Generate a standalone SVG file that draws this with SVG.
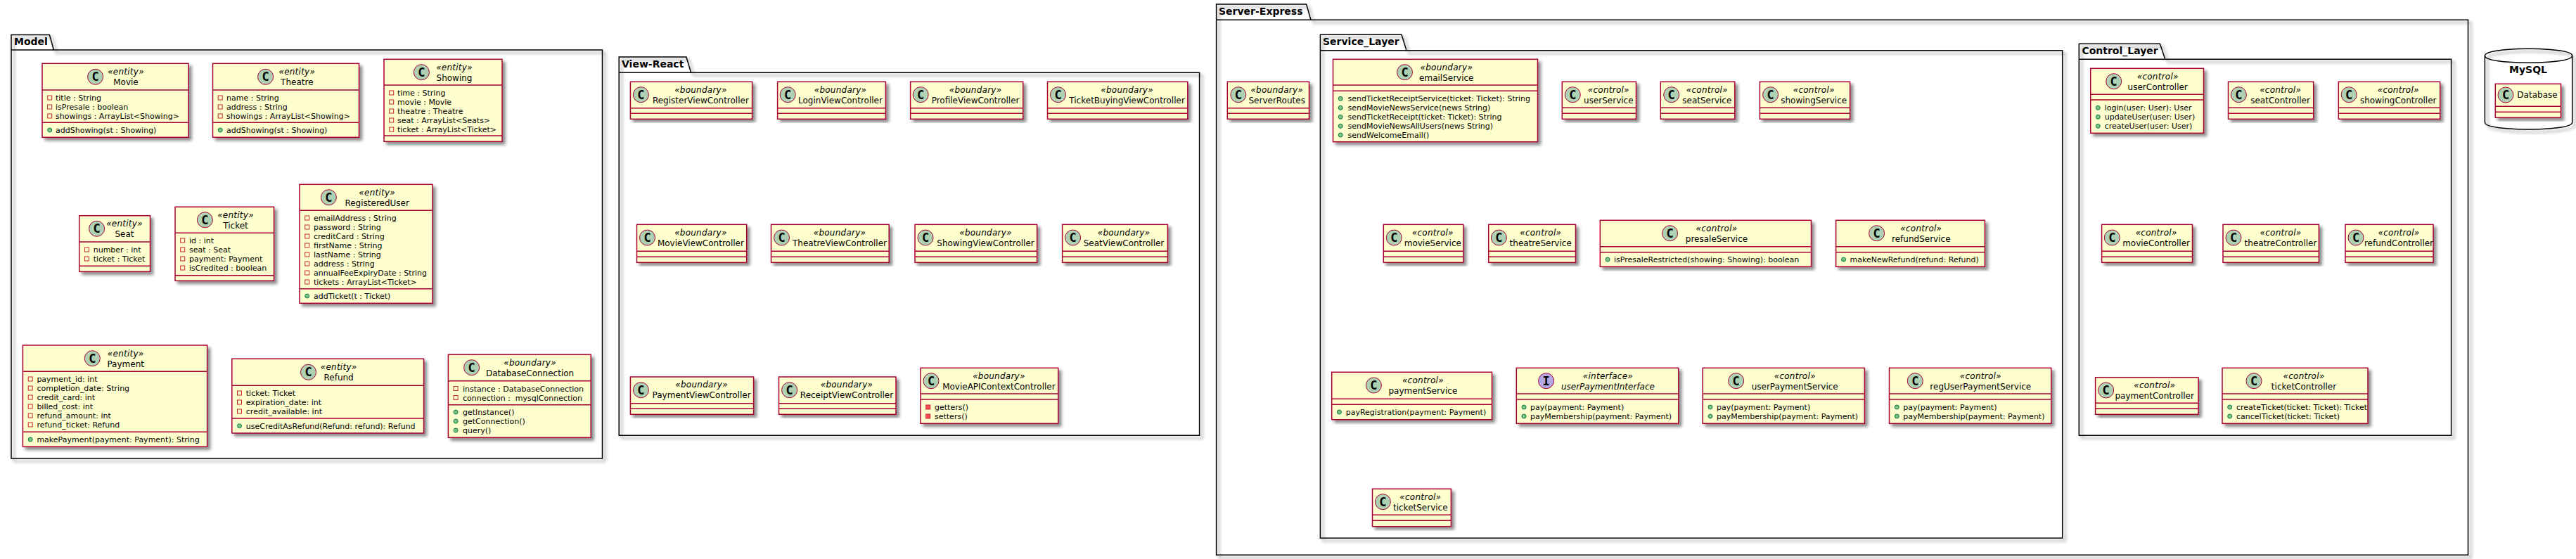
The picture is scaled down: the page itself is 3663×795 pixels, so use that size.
<svg xmlns="http://www.w3.org/2000/svg" width="3663" height="795" viewBox="0 0 3663 795">
<style>
text{font-family:"DejaVu Sans",sans-serif;fill:#000}
.b{fill:#FEFECE;stroke:#A80036;stroke-width:1.5;filter:url(#sh)}
.l{stroke:#A80036;stroke-width:1.5;fill:none}
.p{fill:none;stroke:#000;stroke-width:1.5;filter:url(#sh)}
.q{fill:none;stroke:#000;stroke-width:1.5}
.k{fill:#ADD1B2;stroke:#A80036;stroke-width:1}
.i{fill:#B4A7E5;stroke:#A80036;stroke-width:1}
.c{font-family:"DejaVu Sans Mono",monospace;font-weight:bold;font-size:17px;text-anchor:middle}
.s{font-size:12px;font-style:italic;text-anchor:middle;letter-spacing:.25px;transform:translateY(-1px)}
.n{font-size:12px;text-anchor:middle;transform:translateY(-1px)}
.t{font-size:14px;font-weight:bold}
.m{font-size:11px}
.pv{fill:none;stroke:#C82930;stroke-width:1}
.pm{fill:#F24D5C;stroke:#C82930;stroke-width:1}
.pb{fill:#84BE84;stroke:#038048;stroke-width:1}
</style>
<defs>
<filter id="sh" x="-5%" y="-5%" width="112%" height="115%"><feGaussianBlur in="SourceAlpha" stdDeviation="2" result="b"/><feColorMatrix in="b" type="matrix" values="0 0 0 0 0 0 0 0 0 0 0 0 0 0 0 0 0 0 0.45 0" result="c"/><feOffset in="c" dx="4" dy="4" result="o"/><feBlend in="SourceGraphic" in2="o" mode="normal"/></filter>
<rect id="priv" class="pv" x="-3" y="-3" width="6" height="6"/>
<rect id="privm" class="pm" x="-3" y="-3" width="6" height="6"/>
<circle id="pub" class="pb" r="3"/>
</defs>
<rect width="3663" height="795" fill="#fff"/>
<g id="packages">
<g id="pkg-model"><path class="p" d="M16,71V49.5H70.4L76.4,71H856.5V652H16Z"/><path class="q" d="M16,71H76.4"/><text class="t" x="20" y="64">Model</text></g>
<g id="pkg-view"><path class="p" d="M880.2,103.3V81H975.9L982.6,103.3H1705.6V619.3H880.2Z"/><path class="q" d="M880.2,103.3H982.6"/><text class="t" x="884" y="96">View-React</text></g>
<g id="pkg-server"><path class="p" d="M1729.6,28.3V6H1857.6L1864,28.3H3509.5V789.3H1729.6Z"/><path class="q" d="M1729.6,28.3H1864"/><text class="t" x="1733" y="21">Server-Express</text></g>
<g id="pkg-service"><path class="p" d="M1877.4,71.7V49.3H1993L2000,71.7H2932.7V765.3H1877.4Z"/><path class="q" d="M1877.4,71.7H2000"/><text class="t" x="1881" y="64">Service_Layer</text></g>
<g id="pkg-control"><path class="p" d="M2956.3,84.3V62.3H3071.4L3078.8,84.3H3485.6V619.3H2956.3Z"/><path class="q" d="M2956.3,84.3H3078.8"/><text class="t" x="2960.4" y="77">Control_Layer</text></g>
<g id="db-mysql"><path class="p" d="M3533.4,79.3C3533.4,69.3 3595.5,69.3 3595.5,69.3C3595.5,69.3 3657.7,69.3 3657.7,79.3V174C3657.7,184 3595.5,184 3595.5,184C3595.5,184 3533.4,184 3533.4,174Z"/><path class="q" d="M3533.4,79.3C3533.4,89.3 3595.5,89.3 3595.5,89.3C3595.5,89.3 3657.7,89.3 3657.7,79.3"/><text class="t" x="3595" y="104" text-anchor="middle">MySQL</text></g>
</g>
<g id="connectors"/>
<g id="nodes">
<g id="Movie"><rect class="b" x="60" y="90.3" width="208" height="105"/><path class="l" d="M60,128H268M60,174.3H268"/><circle class="k" cx="135.6" cy="109.3" r="11"/><text class="c" x="135.6" y="115">C</text><text class="s" x="179" y="106.5">«entity»</text><text class="n" x="179" y="121.5">Movie</text><use href="#priv" x="70.7" y="139"/><text class="m" x="79" y="143">title : String</text><use href="#priv" x="70.7" y="152"/><text class="m" x="79" y="156">isPresale : boolean</text><use href="#priv" x="70.7" y="165"/><text class="m" x="79" y="169">showings : ArrayList&lt;Showing&gt;</text><use href="#pub" x="70.7" y="185"/><text class="m" x="79" y="189">addShowing(st : Showing)</text></g>
<g id="Theatre"><rect class="b" x="302.5" y="90.3" width="208" height="105"/><path class="l" d="M302.5,128H510.5M302.5,174.3H510.5"/><circle class="k" cx="377.6" cy="109.3" r="11"/><text class="c" x="377.6" y="115">C</text><text class="s" x="422.3" y="106.5">«entity»</text><text class="n" x="422.3" y="121.5">Theatre</text><use href="#priv" x="313.2" y="139"/><text class="m" x="322" y="143">name : String</text><use href="#priv" x="313.2" y="152"/><text class="m" x="322" y="156">address : String</text><use href="#priv" x="313.2" y="165"/><text class="m" x="322" y="169">showings : ArrayList&lt;Showing&gt;</text><use href="#pub" x="313.2" y="185"/><text class="m" x="322" y="189">addShowing(st : Showing)</text></g>
<g id="Showing"><rect class="b" x="546" y="84.3" width="168" height="117"/><path class="l" d="M546,121H714M546,193H714"/><circle class="k" cx="599.4" cy="102.7" r="11"/><text class="c" x="599.4" y="108.5">C</text><text class="s" x="646" y="100.5">«entity»</text><text class="n" x="646" y="115.5">Showing</text><use href="#priv" x="556.7" y="132"/><text class="m" x="565" y="136">time : String</text><use href="#priv" x="556.7" y="145"/><text class="m" x="565" y="149">movie : Movie</text><use href="#priv" x="556.7" y="158"/><text class="m" x="565" y="162">theatre : Theatre</text><use href="#priv" x="556.7" y="171"/><text class="m" x="565" y="175">seat : ArrayList&lt;Seats&gt;</text><use href="#priv" x="556.7" y="184"/><text class="m" x="565" y="188">ticket : ArrayList&lt;Ticket&gt;</text></g>
<g id="Seat"><rect class="b" x="112.7" y="306.7" width="100.8" height="79.6"/><path class="l" d="M112.7,344H213.5M112.7,378.3H213.5"/><circle class="k" cx="137.6" cy="325.3" r="11"/><text class="c" x="137.6" y="331">C</text><text class="s" x="177" y="323">«entity»</text><text class="n" x="177" y="338">Seat</text><use href="#priv" x="123.4" y="355"/><text class="m" x="132.7" y="359">number : int</text><use href="#priv" x="123.4" y="368"/><text class="m" x="132.7" y="372">ticket : Ticket</text></g>
<g id="Ticket"><rect class="b" x="249" y="294.3" width="140.5" height="105"/><path class="l" d="M249,331.3H389.5M249,391.7H389.5"/><circle class="k" cx="291.4" cy="312.7" r="11"/><text class="c" x="291.4" y="318.5">C</text><text class="s" x="335" y="310.5">«entity»</text><text class="n" x="335" y="325.5">Ticket</text><use href="#priv" x="259.7" y="342"/><text class="m" x="269" y="346">id : int</text><use href="#priv" x="259.7" y="355"/><text class="m" x="269" y="359">seat : Seat</text><use href="#priv" x="259.7" y="368"/><text class="m" x="269" y="372">payment: Payment</text><use href="#priv" x="259.7" y="381"/><text class="m" x="269" y="385">isCredited : boolean</text></g>
<g id="RegisteredUser"><rect class="b" x="426" y="262.3" width="189" height="169"/><path class="l" d="M426,299.3H615M426,410.7H615"/><circle class="k" cx="467.4" cy="280.7" r="11"/><text class="c" x="467.4" y="286.5">C</text><text class="s" x="536.2" y="278.5">«entity»</text><text class="n" x="536.2" y="293.5">RegisteredUser</text><use href="#priv" x="436.7" y="310"/><text class="m" x="446" y="314">emailAddress : String</text><use href="#priv" x="436.7" y="323"/><text class="m" x="446" y="327">password : String</text><use href="#priv" x="436.7" y="336"/><text class="m" x="446" y="340">creditCard : String</text><use href="#priv" x="436.7" y="349"/><text class="m" x="446" y="353">firstName : String</text><use href="#priv" x="436.7" y="362"/><text class="m" x="446" y="366">lastName : String</text><use href="#priv" x="436.7" y="375"/><text class="m" x="446" y="379">address : String</text><use href="#priv" x="436.7" y="388"/><text class="m" x="446" y="392">annualFeeExpiryDate : String</text><use href="#priv" x="436.7" y="401"/><text class="m" x="446" y="405">tickets : ArrayList&lt;Ticket&gt;</text><use href="#pub" x="436.7" y="421"/><text class="m" x="446" y="425">addTicket(t : Ticket)</text></g>
<g id="Payment"><rect class="b" x="32.4" y="491" width="262.2" height="144.3"/><path class="l" d="M32.4,528.3H294.6M32.4,614.3H294.6"/><circle class="k" cx="131.3" cy="509.7" r="11"/><text class="c" x="131.3" y="515.5">C</text><text class="s" x="178.7" y="507.5">«entity»</text><text class="n" x="178.7" y="522.5">Payment</text><use href="#priv" x="43.2" y="539"/><text class="m" x="52.4" y="543">payment_id: int</text><use href="#priv" x="43.2" y="552"/><text class="m" x="52.4" y="556">completion_date: String</text><use href="#priv" x="43.2" y="565"/><text class="m" x="52.4" y="569">credit_card: int</text><use href="#priv" x="43.2" y="578"/><text class="m" x="52.4" y="582">billed_cost: int</text><use href="#priv" x="43.2" y="591"/><text class="m" x="52.4" y="595">refund_amount: int</text><use href="#priv" x="43.2" y="604"/><text class="m" x="52.4" y="608">refund_ticket: Refund</text><use href="#pub" x="43.2" y="625"/><text class="m" x="52.4" y="629">makePayment(payment: Payment): String</text></g>
<g id="Refund"><rect class="b" x="329.8" y="510.3" width="272.8" height="105.7"/><path class="l" d="M329.8,548.3H602.6M329.8,595H602.6"/><circle class="k" cx="438.5" cy="529.3" r="11"/><text class="c" x="438.5" y="535">C</text><text class="s" x="481.6" y="527">«entity»</text><text class="n" x="481.6" y="542">Refund</text><use href="#priv" x="340.5" y="559"/><text class="m" x="349.8" y="563">ticket: Ticket</text><use href="#priv" x="340.5" y="572"/><text class="m" x="349.8" y="576">expiration_date: int</text><use href="#priv" x="340.5" y="585"/><text class="m" x="349.8" y="589">credit_available: int</text><use href="#pub" x="340.5" y="605.7"/><text class="m" x="349.8" y="609.7">useCreditAsRefund(Refund: refund): Refund</text></g>
<g id="DatabaseConnection"><rect class="b" x="637.4" y="504.3" width="202.8" height="118"/><path class="l" d="M637.4,541.7H840.2M637.4,575.7H840.2"/><circle class="k" cx="670.6" cy="522.7" r="11"/><text class="c" x="670.6" y="528.5">C</text><text class="s" x="753.6" y="520.5">«boundary»</text><text class="n" x="753.6" y="535.5">DatabaseConnection</text><use href="#priv" x="648.1" y="552.5"/><text class="m" x="658" y="556.5">instance : DatabaseConnection</text><use href="#priv" x="648.1" y="565.5"/><text class="m" x="658" y="569.5">connection :&#160; mysqlConnection</text><use href="#pub" x="648.1" y="586"/><text class="m" x="658" y="590">getInstance()</text><use href="#pub" x="648.1" y="599"/><text class="m" x="658" y="603">getConnection()</text><use href="#pub" x="648.1" y="612"/><text class="m" x="658" y="616">query()</text></g>
<g id="RegisterViewController"><rect class="b" x="896.4" y="116.3" width="173.2" height="53"/><path class="l" d="M896.4,153.7H1069.6M896.4,161.3H1069.6"/><circle class="k" cx="911.4" cy="134.7" r="11"/><text class="c" x="911.4" y="140.5">C</text><text class="s" x="996.4" y="132.5">«boundary»</text><text class="n" x="996.4" y="147.5">RegisterViewController</text></g>
<g id="LoginViewController"><rect class="b" x="1105.6" y="116.3" width="153.8" height="53"/><path class="l" d="M1105.6,153.7H1259.4M1105.6,161.3H1259.4"/><circle class="k" cx="1120.2" cy="134.7" r="11"/><text class="c" x="1120.2" y="140.5">C</text><text class="s" x="1195" y="132.5">«boundary»</text><text class="n" x="1195" y="147.5">LoginViewController</text></g>
<g id="ProfileViewController"><rect class="b" x="1294.6" y="116.3" width="160.1" height="53"/><path class="l" d="M1294.6,153.7H1454.7M1294.6,161.3H1454.7"/><circle class="k" cx="1309.2" cy="134.7" r="11"/><text class="c" x="1309.2" y="140.5">C</text><text class="s" x="1387.1" y="132.5">«boundary»</text><text class="n" x="1387.1" y="147.5">ProfileViewController</text></g>
<g id="TicketBuyingViewController"><rect class="b" x="1489.5" y="116.3" width="199.3" height="53"/><path class="l" d="M1489.5,153.7H1688.8M1489.5,161.3H1688.8"/><circle class="k" cx="1504.5" cy="134.7" r="11"/><text class="c" x="1504.5" y="140.5">C</text><text class="s" x="1602.6" y="132.5">«boundary»</text><text class="n" x="1602.6" y="147.5">TicketBuyingViewController</text></g>
<g id="MovieViewController"><rect class="b" x="905.5" y="319.3" width="156.2" height="54"/><path class="l" d="M905.5,357.3H1061.7M905.5,365.3H1061.7"/><circle class="k" cx="920.5" cy="338" r="11"/><text class="c" x="920.5" y="343.8">C</text><text class="s" x="996.4" y="335.5">«boundary»</text><text class="n" x="996.4" y="350.5">MovieViewController</text></g>
<g id="TheatreViewController"><rect class="b" x="1096.5" y="319.3" width="167.7" height="54"/><path class="l" d="M1096.5,357.3H1264.2M1096.5,365.3H1264.2"/><circle class="k" cx="1111.5" cy="338" r="11"/><text class="c" x="1111.5" y="343.8">C</text><text class="s" x="1194" y="335.5">«boundary»</text><text class="n" x="1194" y="350.5">TheatreViewController</text></g>
<g id="ShowingViewController"><rect class="b" x="1301" y="319.3" width="173.6" height="54"/><path class="l" d="M1301,357.3H1474.6M1301,365.3H1474.6"/><circle class="k" cx="1316" cy="338" r="11"/><text class="c" x="1316" y="343.8">C</text><text class="s" x="1401.5" y="335.5">«boundary»</text><text class="n" x="1401.5" y="350.5">ShowingViewController</text></g>
<g id="SeatViewController"><rect class="b" x="1510.6" y="319.3" width="149.8" height="54"/><path class="l" d="M1510.6,357.3H1660.4M1510.6,365.3H1660.4"/><circle class="k" cx="1525.6" cy="338" r="11"/><text class="c" x="1525.6" y="343.8">C</text><text class="s" x="1598" y="335.5">«boundary»</text><text class="n" x="1598" y="350.5">SeatViewController</text></g>
<g id="PaymentViewController"><rect class="b" x="896.4" y="536" width="175.2" height="53.3"/><path class="l" d="M896.4,573.7H1071.6M896.4,581.3H1071.6"/><circle class="k" cx="911.4" cy="554.7" r="11"/><text class="c" x="911.4" y="560.5">C</text><text class="s" x="997.6" y="552.3">«boundary»</text><text class="n" x="997.6" y="567.3">PaymentViewController</text></g>
<g id="ReceiptViewController"><rect class="b" x="1107.5" y="536" width="166.5" height="53.3"/><path class="l" d="M1107.5,573.7H1274M1107.5,581.3H1274"/><circle class="k" cx="1122.6" cy="554.7" r="11"/><text class="c" x="1122.6" y="560.5">C</text><text class="s" x="1204" y="552.3">«boundary»</text><text class="n" x="1204" y="567.3">ReceiptViewController</text></g>
<g id="MovieAPIContextController"><rect class="b" x="1309" y="523.3" width="195.7" height="79"/><path class="l" d="M1309,560H1504.7M1309,568H1504.7"/><circle class="k" cx="1324" cy="541.7" r="11"/><text class="c" x="1324" y="547.5">C</text><text class="s" x="1420.4" y="539.5">«boundary»</text><text class="n" x="1420.4" y="554.5">MovieAPIContextController</text><use href="#privm" x="1319.7" y="579"/><text class="m" x="1329" y="583">getters()</text><use href="#privm" x="1319.7" y="592"/><text class="m" x="1329" y="596">setters()</text></g>
<g id="ServerRoutes"><rect class="b" x="1745.3" y="116.3" width="116.2" height="53"/><path class="l" d="M1745.3,153.7H1861.5M1745.3,161.3H1861.5"/><circle class="k" cx="1760.8" cy="134.7" r="11"/><text class="c" x="1760.8" y="140.5">C</text><text class="s" x="1815.7" y="132.5">«boundary»</text><text class="n" x="1815.7" y="147.5">ServerRoutes</text></g>
<g id="emailService"><rect class="b" x="1895.5" y="84.3" width="291" height="117.4"/><path class="l" d="M1895.5,121H2186.5M1895.5,129.3H2186.5"/><circle class="k" cx="1997.5" cy="102.7" r="11"/><text class="c" x="1997.5" y="108.5">C</text><text class="s" x="2056.8" y="100.5">«boundary»</text><text class="n" x="2056.8" y="115.5">emailService</text><use href="#pub" x="1906.2" y="140.3"/><text class="m" x="1916.5" y="144.3">sendTicketReceiptService(ticket: Ticket): String</text><use href="#pub" x="1906.2" y="153.3"/><text class="m" x="1916.5" y="157.3">sendMovieNewsService(news String)</text><use href="#pub" x="1906.2" y="166.3"/><text class="m" x="1916.5" y="170.3">sendTicketReceipt(ticket: Ticket): String</text><use href="#pub" x="1906.2" y="179.3"/><text class="m" x="1916.5" y="183.3">sendMovieNewsAllUsers(news String)</text><use href="#pub" x="1906.2" y="192"/><text class="m" x="1916.5" y="196">sendWelcomeEmail()</text></g>
<g id="userService"><rect class="b" x="2221.3" y="116.3" width="105.2" height="53"/><path class="l" d="M2221.3,153.3H2326.5M2221.3,161.3H2326.5"/><circle class="k" cx="2236.3" cy="134.7" r="11"/><text class="c" x="2236.3" y="140.5">C</text><text class="s" x="2287.3" y="132.5">«control»</text><text class="n" x="2287.3" y="147.5">userService</text></g>
<g id="seatService"><rect class="b" x="2361.3" y="116.3" width="105.5" height="53"/><path class="l" d="M2361.3,153.3H2466.8M2361.3,161.3H2466.8"/><circle class="k" cx="2376.7" cy="134.7" r="11"/><text class="c" x="2376.7" y="140.5">C</text><text class="s" x="2427.3" y="132.5">«control»</text><text class="n" x="2427.3" y="147.5">seatService</text></g>
<g id="showingService"><rect class="b" x="2502.4" y="116.3" width="128.2" height="53"/><path class="l" d="M2502.4,153.3H2630.6M2502.4,161.3H2630.6"/><circle class="k" cx="2517.6" cy="134.7" r="11"/><text class="c" x="2517.6" y="140.5">C</text><text class="s" x="2579.2" y="132.5">«control»</text><text class="n" x="2579.2" y="147.5">showingService</text></g>
<g id="movieService"><rect class="b" x="1967.3" y="319.3" width="113.5" height="54"/><path class="l" d="M1967.3,357.3H2080.8M1967.3,365.3H2080.8"/><circle class="k" cx="1982.3" cy="338" r="11"/><text class="c" x="1982.3" y="343.8">C</text><text class="s" x="2037.3" y="335.5">«control»</text><text class="n" x="2037.3" y="350.5">movieService</text></g>
<g id="theatreService"><rect class="b" x="2116.7" y="319.3" width="123.8" height="54"/><path class="l" d="M2116.7,357.3H2240.5M2116.7,365.3H2240.5"/><circle class="k" cx="2131.4" cy="338" r="11"/><text class="c" x="2131.4" y="343.8">C</text><text class="s" x="2190.7" y="335.5">«control»</text><text class="n" x="2190.7" y="350.5">theatreService</text></g>
<g id="presaleService"><rect class="b" x="2275.3" y="313.3" width="300.2" height="66"/><path class="l" d="M2275.3,350.7H2575.5M2275.3,358.7H2575.5"/><circle class="k" cx="2374.6" cy="331.7" r="11"/><text class="c" x="2374.6" y="337.5">C</text><text class="s" x="2441" y="329.5">«control»</text><text class="n" x="2441" y="344.5">presaleService</text><use href="#pub" x="2286" y="369"/><text class="m" x="2295" y="373">isPresaleRestricted(showing: Showing): boolean</text></g>
<g id="refundService"><rect class="b" x="2610.6" y="313.3" width="211.8" height="66"/><path class="l" d="M2610.6,350.7H2822.4M2610.6,358.7H2822.4"/><circle class="k" cx="2668.6" cy="331.7" r="11"/><text class="c" x="2668.6" y="337.5">C</text><text class="s" x="2731.8" y="329.5">«control»</text><text class="n" x="2731.8" y="344.5">refundService</text><use href="#pub" x="2621.5" y="369"/><text class="m" x="2630.5" y="373">makeNewRefund(refund: Refund)</text></g>
<g id="paymentService"><rect class="b" x="1893.7" y="529.3" width="227.8" height="67.4"/><path class="l" d="M1893.7,567.3H2121.5M1893.7,575.3H2121.5"/><circle class="k" cx="1953.4" cy="548" r="11"/><text class="c" x="1953.4" y="553.8">C</text><text class="s" x="2023.4" y="545.5">«control»</text><text class="n" x="2023.4" y="560.5">paymentService</text><use href="#pub" x="1904.4" y="586"/><text class="m" x="1913.7" y="590">payRegistration(payment: Payment)</text></g>
<g id="userPaymentInterface"><rect class="b" x="2156.3" y="523.3" width="230.5" height="79"/><path class="l" d="M2156.3,560H2386.8M2156.3,568H2386.8"/><circle class="i" cx="2198.6" cy="541.7" r="11"/><text class="c" x="2198.6" y="547.5">I</text><text class="s" x="2286.4" y="539.5">«interface»</text><text class="n" x="2286.4" y="554.5" font-style="italic">userPaymentInterface</text><use href="#pub" x="2167" y="579"/><text class="m" x="2176" y="583">pay(payment: Payment)</text><use href="#pub" x="2167" y="592"/><text class="m" x="2176" y="596">payMembership(payment: Payment)</text></g>
<g id="userPaymentService"><rect class="b" x="2421.2" y="523.3" width="230.2" height="79"/><path class="l" d="M2421.2,560H2651.4M2421.2,568H2651.4"/><circle class="k" cx="2468.7" cy="541.7" r="11"/><text class="c" x="2468.7" y="547.5">C</text><text class="s" x="2552.2" y="539.5">«control»</text><text class="n" x="2552.2" y="554.5">userPaymentService</text><use href="#pub" x="2432" y="579"/><text class="m" x="2441" y="583">pay(payment: Payment)</text><use href="#pub" x="2432" y="592"/><text class="m" x="2441" y="596">payMembership(payment: Payment)</text></g>
<g id="regUserPaymentService"><rect class="b" x="2686.5" y="523.3" width="230.2" height="79"/><path class="l" d="M2686.5,560H2916.7M2686.5,568H2916.7"/><circle class="k" cx="2723.3" cy="541.7" r="11"/><text class="c" x="2723.3" y="547.5">C</text><text class="s" x="2816.3" y="539.5">«control»</text><text class="n" x="2816.3" y="554.5">regUserPaymentService</text><use href="#pub" x="2697.3" y="579"/><text class="m" x="2706.3" y="583">pay(payment: Payment)</text><use href="#pub" x="2697.3" y="592"/><text class="m" x="2706.3" y="596">payMembership(payment: Payment)</text></g>
<g id="ticketService"><rect class="b" x="1951.5" y="695.3" width="111.9" height="53.4"/><path class="l" d="M1951.5,732.3H2063.4M1951.5,740.3H2063.4"/><circle class="k" cx="1966.4" cy="713.7" r="11"/><text class="c" x="1966.4" y="719.5">C</text><text class="s" x="2019.8" y="711.5">«control»</text><text class="n" x="2019.8" y="726.5">ticketService</text></g>
<g id="userController"><rect class="b" x="2972.7" y="97.3" width="160.8" height="92"/><path class="l" d="M2972.7,134.3H3133.5M2972.7,142H3133.5"/><circle class="k" cx="3005.7" cy="115.7" r="11"/><text class="c" x="3005.7" y="121.5">C</text><text class="s" x="3068.2" y="113.5">«control»</text><text class="n" x="3068.2" y="128.5">userController</text><use href="#pub" x="2983.3" y="153.3"/><text class="m" x="2992.7" y="157.3">login(user: User): User</text><use href="#pub" x="2983.3" y="166.3"/><text class="m" x="2992.7" y="170.3">updateUser(user: User)</text><use href="#pub" x="2983.3" y="179.3"/><text class="m" x="2992.7" y="183.3">createUser(user: User)</text></g>
<g id="seatController"><rect class="b" x="3168.5" y="116.3" width="121.2" height="53"/><path class="l" d="M3168.5,153.3H3289.7M3168.5,161.3H3289.7"/><circle class="k" cx="3183.4" cy="134.7" r="11"/><text class="c" x="3183.4" y="140.5">C</text><text class="s" x="3242.6" y="132.5">«control»</text><text class="n" x="3242.6" y="147.5">seatController</text></g>
<g id="showingController"><rect class="b" x="3325.3" y="116.3" width="144.4" height="53"/><path class="l" d="M3325.3,153.3H3469.7M3325.3,161.3H3469.7"/><circle class="k" cx="3340.2" cy="134.7" r="11"/><text class="c" x="3340.2" y="140.5">C</text><text class="s" x="3410.2" y="132.5">«control»</text><text class="n" x="3410.2" y="147.5">showingController</text></g>
<g id="movieController"><rect class="b" x="2988.6" y="319.3" width="128.9" height="54"/><path class="l" d="M2988.6,357.3H3117.5M2988.6,365.3H3117.5"/><circle class="k" cx="3003.3" cy="338" r="11"/><text class="c" x="3003.3" y="343.8">C</text><text class="s" x="3066.1" y="335.5">«control»</text><text class="n" x="3066.1" y="350.5">movieController</text></g>
<g id="theatreController"><rect class="b" x="3161" y="319.3" width="136.4" height="54"/><path class="l" d="M3161,357.3H3297.4M3161,365.3H3297.4"/><circle class="k" cx="3176" cy="338" r="11"/><text class="c" x="3176" y="343.8">C</text><text class="s" x="3243" y="335.5">«control»</text><text class="n" x="3243" y="350.5">theatreController</text></g>
<g id="refundController"><rect class="b" x="3335" y="319.3" width="125" height="54"/><path class="l" d="M3335,357.3H3460M3335,365.3H3460"/><circle class="k" cx="3350" cy="338" r="11"/><text class="c" x="3350" y="343.8">C</text><text class="s" x="3411" y="335.5">«control»</text><text class="n" x="3411" y="350.5">refundController</text></g>
<g id="paymentController"><rect class="b" x="2979.6" y="536.7" width="146.4" height="52.6"/><path class="l" d="M2979.6,573.3H3126M2979.6,581.3H3126"/><circle class="k" cx="2994.7" cy="555" r="11"/><text class="c" x="2994.7" y="560.8">C</text><text class="s" x="3063.7" y="553">«control»</text><text class="n" x="3063.7" y="568">paymentController</text></g>
<g id="ticketController"><rect class="b" x="3160" y="523.3" width="207" height="79"/><path class="l" d="M3160,560H3367M3160,568H3367"/><circle class="k" cx="3205" cy="541.7" r="11"/><text class="c" x="3205" y="547.5">C</text><text class="s" x="3276" y="539.5">«control»</text><text class="n" x="3276" y="554.5">ticketController</text><use href="#pub" x="3170.7" y="579"/><text class="m" x="3180" y="583">createTicket(ticket: Ticket): Ticket</text><use href="#pub" x="3170.7" y="592"/><text class="m" x="3180" y="596">cancelTicket(ticket: Ticket)</text></g>
<g id="Database"><rect class="b" x="3548.3" y="119.3" width="93.2" height="48"/><path class="l" d="M3548.3,151.3H3641.5M3548.3,159.3H3641.5"/><circle class="k" cx="3563" cy="135" r="11"/><text class="c" x="3563" y="140.8">C</text><text class="n" x="3608" y="140">Database</text></g>
</g>
</svg>
